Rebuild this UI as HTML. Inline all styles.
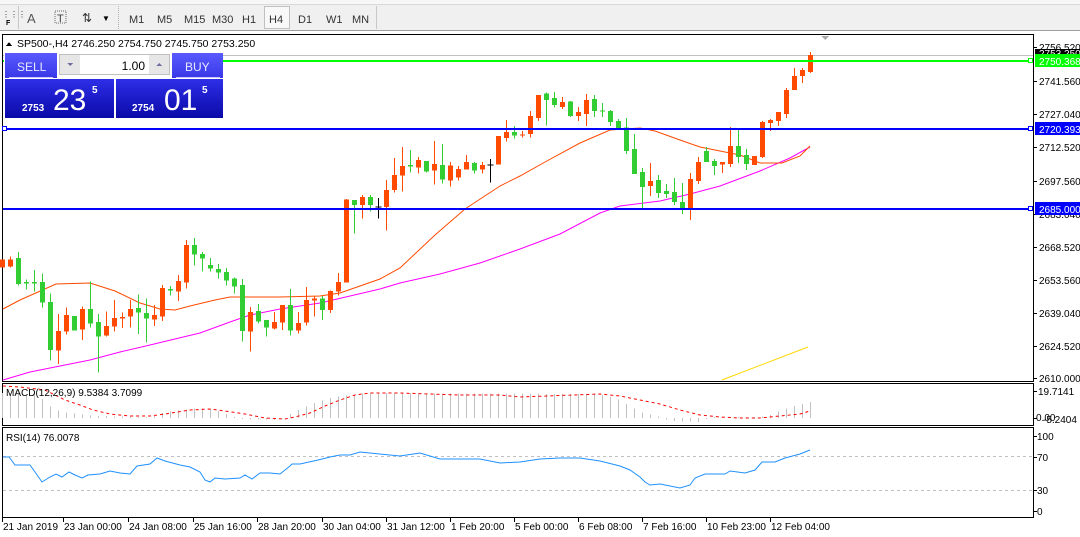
<!DOCTYPE html>
<html><head><meta charset="utf-8">
<style>
html,body{margin:0;padding:0;width:1080px;height:537px;overflow:hidden;background:#fff;font-family:"Liberation Sans",sans-serif;}
svg text{font-family:"Liberation Sans",sans-serif;}
</style></head><body>
<svg id="s" width="1080" height="537" xmlns="http://www.w3.org/2000/svg" shape-rendering="crispEdges">
<rect x="0" y="0" width="1080" height="31" fill="#f0f0f0"/>
<rect x="0" y="0" width="1080" height="4" fill="#f7f7f7"/>
<line x1="0" y1="4.5" x2="1080" y2="4.5" stroke="#d8d8d8"/>
<line x1="0" y1="30.5" x2="1080" y2="30.5" stroke="#a0a0a0"/>
<line x1="18.5" y1="6" x2="18.5" y2="29" stroke="#c8c8c8"/>
<text x="2" y="17" font-size="8" fill="#333">⋮⋮⋮</text>
<text x="6" y="25" font-size="7" fill="#000" font-weight="bold">F</text>
<text x="27" y="23" font-size="13" fill="#555">A</text>
<rect x="55" y="11" width="11" height="12" fill="none" stroke="#666" stroke-dasharray="1,1"/>
<text x="57" y="22" font-size="11" fill="#444">T</text>
<text x="82" y="22" font-size="12" fill="#333">⇅</text>
<text x="102" y="21" font-size="8" fill="#000">▼</text>
<line x1="118.5" y1="6" x2="118.5" y2="29" stroke="#b0b0b0" stroke-dasharray="1,1"/>
<g font-size="11" fill="#333">
<text x="129" y="23">M1</text><text x="157" y="23">M5</text><text x="184" y="23">M15</text><text x="212" y="23">M30</text><text x="242" y="23">H1</text>
<rect x="264.5" y="6.5" width="25" height="22" fill="#f8f8f8" stroke="#c0c0c0"/>
<text x="269" y="23">H4</text><text x="298" y="23">D1</text><text x="326" y="23">W1</text><text x="352" y="23">MN</text>
</g>
<line x1="376.5" y1="6" x2="376.5" y2="29" stroke="#c8c8c8"/>
<g fill="none" stroke="#000" stroke-width="1">
<rect x="2.5" y="34.5" width="1031" height="347"/>
<rect x="2.5" y="383.5" width="1031" height="42"/>
<rect x="2.5" y="427.5" width="1031" height="90"/>
</g>
<polygon points="821,36 829,36 825,40" fill="#aaa"/>
<g id="main"></g>
</svg>
<script>
var S=document.getElementById('s'),G=document.getElementById('main');
function el(t,a,p){var e=document.createElementNS('http://www.w3.org/2000/svg',t);for(var k in a)e.setAttribute(k,a[k]);(p||G).appendChild(e);return e;}
function tx(x,y,s,a){var e=el('text',Object.assign({x:x,y:y,'font-size':11,fill:'#000'},a||{}));e.textContent=s;return e;}
el('line',{x1:3,y1:55.5,x2:1033,y2:55.5,stroke:'#c0c0c0'});
var c4=[['o',388,412,388,412],['o',388,410,380,412],['g',384,462,366,466],['g',456,460,448,478],['g',456,460,420,484],['g',456,518,430,532],['g',516,660,490,692],['o',603,662,552,702],['o',555,605,532,614],['g',558,602,558,602],['o',537,599,530,630],['g',537,581,454,592],['g',576,620,552,728],['o',588,617,544,620],['o',564,590,510,604],['o',561,566,548,594],['o',537,560,510,592],['g',534,548,494,612],['g',549,566,505,637],['o',555,569,525,588],['o',474,560,465,573],['g',477,482,468,497],['o',453,485,435,513],['o',345,458,330,476],['g',345,374,324,407],['g',372,386,366,425],['g',405,416,384,425],['g',417,428,402,446],['g',426,452,414,467],['g',446,470,443,491],['g',465,603,447,635],['o',546,605,531,665],['g',543,575,522,580],['g',570,593,570,620],['o',576,596,546,599],['o',525,578,525,600],['g',525,602,477,617],['o',579,602,546,611],['o',510,578,471,587],['o',506,511,498,560],['g',506,540,498,570],['o',483,540,482,549],['o',456,484,429,496],['o',209,458,207,458],['g',210,225,210,311],['o',201,225,195,266],['g',201,225,195,245],['k',229,233,204,266],['o',180,231,150,302],['o',135,180,84,188]];
var c5=[['o',378,407,321,455],['g',375,380,330,398],['o',360,383,351,401],['g',363,395,363,398],['o',372,392,303,434],['g',375,419,312,431],['o',376,422,366,440],['o',387,413,378,422],['o',366,389,345,389],['g',369,392,366,401],['o',375,389,366,401],['k',373,377,357,428],['o',288,374,288,374],['o',276,294,240,305],['g',276,287,258,296],['o',283,287,273,293],['o',228,282,213,293],['o',165,234,165,243],['g',161,180,158,257],['g',174,195,156,203],['o',186,201,171,207],['g',185,228,183,231],['o',216,228,201,243],['o',180,222,162,258],['g',177,213,165,231],['g',212,214,189,231],['g',213,246,210,258],['g',243,268,237,270],['g',263,333,234,342],['g',327,402,282,402],['g',396,441,384,507],['o',423,438,369,468],['g',420,459,405,474],['g',453,462,432,474],['g',456,486,414,495],['g',486,507,429,522],['o',417,504,399,540],['o',366,423,351,432],['g',333,366,321,366],['g',363,378,357,405],['o',366,374,366,399],['o',318,372,261,381],['g',318,351,267,369],['g',345,372,327,390],['o',348,375,348,375],['o',246,351,243,354],['o',240,249,237,273],['o',216,243,216,258],['o',150,222,144,234],['o',108,150,84,150],['o',90,108,84,129],['o',45,96,36,99]];
var C=[];c4.forEach(function(c){C.push([c[0],130+c[1]/3,130+c[2]/3,130+c[3]/3,130+c[4]/3]);});
c5.forEach(function(c){C.push([c[0],40+c[1]/3,40+c[2]/3,40+c[3]/3,40+c[4]/3]);});
var col={o:'#ff4a00',g:'#32cd32',k:'#000'};
function pl(pts,color,w,dash,par){var a={points:pts.map(function(p){return p.join(',')}).join(' '),fill:'none',stroke:color,'stroke-width':w||1,'shape-rendering':'auto'};if(dash)a['stroke-dasharray']=dash;el('polyline',a,par);}
pl([[3,380],[30,372],[60,366],[90,360],[120,352],[150,345],[175,339],[200,333],[230,322],[250,315],[280,309],[320,303],[350,296],[380,289],[400,283],[440,274],[480,263],[520,249],[560,234],[600,213],[620,206],[660,201],[690,194],[720,186],[760,171],[790,158],[810,147]],'#ff00ff');
pl([[3,309],[20,300],[56,284],[90,283],[115,291],[140,303],[160,309],[175,310],[190,306],[215,300],[230,297],[280,297],[320,296],[340,293],[360,286],[380,279],[400,268],[435,235],[465,209],[500,186],[520,176],[545,162],[580,143],[610,130],[640,128],[655,131],[680,140],[700,147],[720,151],[740,155],[760,163],[782,163],[800,156],[810,146]],'#ff4a00');
pl([[722,380],[808,347]],'#ffd700');
C.forEach(function(c,k){var x=2.5+8*k;var cl=col[c[0]];
el('line',{x1:x,y1:c[3],x2:x,y2:c[4],stroke:cl});
var h=Math.max(1,c[2]-c[1]);
if(c[0]=='k')el('line',{x1:x-3,y1:(c[1]+c[2])/2,x2:x+3,y2:(c[1]+c[2])/2,stroke:cl});
else el('rect',{x:x-2.5,y:c[1],width:5,height:h,fill:cl});});
el('line',{x1:3,y1:61,x2:1033,y2:61,stroke:'#00ff00','stroke-width':2});
el('line',{x1:3,y1:129,x2:1033,y2:129,stroke:'#0000ff','stroke-width':2});
el('line',{x1:3,y1:209,x2:1033,y2:209,stroke:'#0000ff','stroke-width':2});
[[61,'#00ff00'],[129,'#0000ff'],[209,'#0000ff']].forEach(function(a){el('rect',{x:1028.5,y:a[0]-2.5,width:4,height:4,fill:'#fff',stroke:a[1]});});
el('rect',{x:2.5,y:126.5,width:4,height:4,fill:'#fff',stroke:'#0000ff'});
var FS=10;
[[2756.520,47],[2741.560,81],[2727.040,114],[2712.520,147],[2697.560,181],[2683.040,214],[2668.520,247],[2653.560,280],[2639.040,313],[2624.520,346],[2610.000,378]].forEach(function(a){
el('line',{x1:1034,y1:a[1]+0.5,x2:1037,y2:a[1]+0.5,stroke:'#000'});tx(1039,a[1]+4,a[0].toFixed(3),{'font-size':FS});});
el('rect',{x:1035,y:49,width:45,height:9,fill:'#000'});tx(1039,57,'2753.250',{fill:'#fff','font-size':FS});
el('rect',{x:1035,y:54,width:45,height:13,fill:'#00ff00'});tx(1039,65,'2750.368',{fill:'#fff','font-size':FS});
el('rect',{x:1035,y:122,width:45,height:13,fill:'#0000ff'});tx(1039,133,'2720.393',{fill:'#fff','font-size':FS});
el('rect',{x:1035,y:202,width:45,height:13,fill:'#0000ff'});tx(1039,213,'2685.000',{fill:'#fff','font-size':FS});
el('polygon',{points:'6,46 12,46 9,42',fill:'#000'});
tx(17,47,'SP500-,H4  2746.250 2754.750 2745.750 2753.250',{'font-size':10.5});
var mt=[[3,393],[40,395],[45,403],[56,410],[70,413],[80,414],[95,416],[150,417],[165,412],[200,408],[215,410],[230,415],[240,419],[280,420],[292,413],[305,407],[320,401],[335,397],[350,395],[365,393],[600,394],[620,400],[640,412],[660,417],[670,421],[700,422],[710,417],[760,417],[770,415],[790,407],[810,402]];
function interp(t,x){for(var i=1;i<t.length;i++){if(x<=t[i][0]){var a=t[i-1],b=t[i];return a[1]+(b[1]-a[1])*(x-a[0])/(b[0]-a[0]);}}return t[t.length-1][1];}
for(var k=0;k<102;k++){var x=2.5+8*k,y=interp(mt,x);el('line',{x1:x,y1:418,x2:x,y2:y,stroke:'#c0c0c0'});}
pl([[3,386],[20,387],[45,390],[65,400],[80,405],[93,410],[110,414],[130,416],[150,416],[165,414],[190,410],[210,409],[225,411],[245,414],[265,418],[285,419],[295,417],[310,413],[325,406],[340,400],[355,395],[370,393],[400,393],[430,394],[460,395],[500,395],[520,397],[600,394],[620,396],[640,400],[660,404],[680,410],[700,415],[720,417],[740,418],[760,418],[780,416],[800,414],[810,411]],'#ff0000',1,'3,3');
tx(6,396,'MACD(12,26,9) 9.5384 3.7099',{'font-size':10});
tx(1038,395,'19.7141',{'font-size':FS});tx(1036,421,'0.00',{'font-size':FS});tx(1043,423,'-5.2404',{'font-size':FS});
el('line',{x1:1034,y1:391.5,x2:1037,y2:391.5,stroke:'#000'});el('line',{x1:1034,y1:418.5,x2:1037,y2:418.5,stroke:'#000'});
el('line',{x1:3,y1:456.5,x2:1033,y2:456.5,stroke:'#c0c0c0','stroke-dasharray':'3,3'});
el('line',{x1:3,y1:490.5,x2:1033,y2:490.5,stroke:'#c0c0c0','stroke-dasharray':'3,3'});
pl([[3,457],[9,457],[15,465],[30,465],[35,472],[42,482],[50,477],[56,474],[62,477],[69,472],[75,475],[82,478],[88,475],[100,474],[110,471],[120,473],[130,474],[137,466],[150,464],[157,458],[165,461],[180,465],[190,467],[200,472],[205,480],[210,482],[215,478],[225,479],[240,478],[245,475],[252,479],[260,473],[270,473],[280,474],[290,466],[292,464],[300,464],[318,460],[330,457],[340,455],[350,455],[360,452],[400,456],[420,453],[440,459],[480,459],[500,463],[520,462],[540,459],[560,458],[580,458],[600,461],[620,466],[630,470],[640,477],[645,482],[650,485],[660,484],[680,488],[690,485],[695,478],[705,474],[725,474],[730,471],[745,473],[755,470],[762,462],[775,462],[785,458],[800,454],[810,450]],'#1e90ff');
tx(6,441,'RSI(14) 76.0078',{'font-size':10});
[[100,436],[70,457],[30,490],[0,511]].forEach(function(a){el('line',{x1:1034,y1:a[1]+0.5,x2:1037,y2:a[1]+0.5,stroke:'#000'});tx(1037,a[1]+4,String(a[0]),{'font-size':FS});});
[['21 Jan 2019',2],['23 Jan 00:00',63],['24 Jan 08:00',128],['25 Jan 16:00',193],['28 Jan 20:00',257],['30 Jan 04:00',322],['31 Jan 12:00',386],['1 Feb 20:00',450],['5 Feb 00:00',514],['6 Feb 08:00',578],['7 Feb 16:00',642],['10 Feb 23:00',706],['12 Feb 04:00',770]].forEach(function(a){
el('line',{x1:a[1]+0.5,y1:518,x2:a[1]+0.5,y2:522,stroke:'#000'});tx(a[1]+1,530,a[0],{'font-size':10});});
var d=el('defs',{},S);
var g1=el('linearGradient',{id:'g1',x1:0,y1:0,x2:0,y2:1},d);el('stop',{offset:0,'stop-color':'#5a5aff'},g1);el('stop',{offset:1,'stop-color':'#3838e8'},g1);
var g2=el('linearGradient',{id:'g2',x1:0,y1:0,x2:0,y2:1},d);el('stop',{offset:0,'stop-color':'#2e2ee8'},g2);el('stop',{offset:1,'stop-color':'#0a0aa8'},g2);
el('rect',{x:4,y:52,width:219,height:67,fill:'#fff'});
el('rect',{x:5,y:53,width:52,height:25,fill:'url(#g1)'});
el('rect',{x:172,y:53,width:51,height:25,fill:'url(#g1)'});
el('line',{x1:9,y1:77.5,x2:53,y2:77.5,stroke:'#c8c8ff'});el('line',{x1:176,y1:77.5,x2:220,y2:77.5,stroke:'#c8c8ff'});
tx(17,71,'SELL',{fill:'#e8e8ff','font-size':12});tx(185,71,'BUY',{fill:'#e8e8ff','font-size':12});
el('rect',{x:59.5,y:54.5,width:110,height:20,fill:'#fff',stroke:'#c0c0c0'});
el('rect',{x:60,y:55,width:20,height:19,fill:'#e6e6e6'});el('rect',{x:149,y:55,width:20,height:19,fill:'#e6e6e6'});
el('polygon',{points:'67,63 73,63 70,66',fill:'#7070a0'});el('polygon',{points:'156,66 162,66 159,63',fill:'#7070a0'});
tx(145,70,'1.00',{'text-anchor':'end','font-size':12});
el('rect',{x:5,y:79,width:109,height:39,fill:'url(#g2)'});el('rect',{x:116,y:79,width:107,height:39,fill:'url(#g2)'});
tx(22,111,'2753',{fill:'#fff','font-size':10,'font-weight':'bold'});tx(53,110,'23',{fill:'#fff','font-size':30});tx(92,93,'5',{fill:'#fff','font-size':10,'font-weight':'bold'});
tx(132,111,'2754',{fill:'#fff','font-size':10,'font-weight':'bold'});tx(164,110,'01',{fill:'#fff','font-size':30});tx(202,93,'5',{fill:'#fff','font-size':10,'font-weight':'bold'});
</script>
</body></html>
